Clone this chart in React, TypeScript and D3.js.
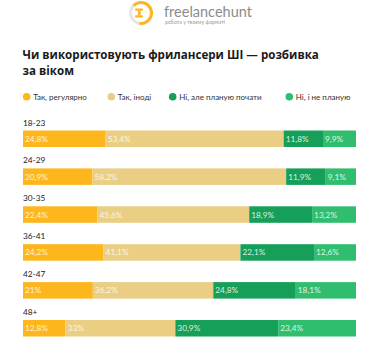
import React from "react";
import * as d3 from "d3";

const categories = ["18-23", "24-29", "30-35", "36-41", "42-47", "48+"];
const seriesNames = ["Так, регулярно", "Так, іноді", "Ні, але планую почати", "Ні, і не планую"];
const regular = [24.8, 20.9, 22.4, 24.2, 21, 12.8];
const sometimes = [53.4, 58.2, 45.6, 41.1, 36.2, 33];
const planning = [11.8, 11.9, 18.9, 22.1, 24.8, 30.9];
const notPlanning = [9.9, 9.1, 13.2, 12.6, 18.1, 23.4];
const colors = ["#FDB71D", "#E9CE84", "#159F59", "#30BE6E"];

const W = 382;
const H = 341;
const fmt = (v: number) => String(v).replace(".", ",") + "%";

export default function App() {
  const keys = ["a", "b", "c", "d"];
  const rows = categories.map((c, i) => ({
    cat: c,
    a: regular[i],
    b: sometimes[i],
    c: planning[i],
    d: notPlanning[i],
  }));
  const stack = d3.stack<any>().keys(keys).offset(d3.stackOffsetExpand);
  const stacked = stack(rows);
  const x = d3.scaleLinear().domain([0, 1]).range([23, 356]);
  const y = d3.scaleBand().domain(categories).range([119.5, 119.5 + 6 * 37.9]).paddingInner(0).paddingOuter(0);
  const barH = 16.5;
  const barOffset = 11;
  const legendX = [26.7, 111.3, 172.7, 289.3];
  const font = "Lato, 'Noto Sans', sans-serif";

  return (
    <svg
      width={W}
      height={H}
      style={{ position: "absolute", left: 0, top: 0, display: "block", background: "#fff" }}
    >
      {/* logo */}
      <g transform="translate(141,13)">
        <circle r={10.5} fill="none" stroke="#e6e6e6" strokeWidth={3} />
        <path
          d={d3.arc()({ innerRadius: 9, outerRadius: 12, startAngle: -Math.PI * 1.05, endAngle: Math.PI * 0.25 }) || ""}
          transform="scale(-1,1)"
          fill="#FDB71D"
        />
        <rect x={-6} y={-4.5} width={8} height={2.2} rx={1} fill="#FDB71D" />
        <rect x={-6} y={2.3} width={8} height={2.2} rx={1} fill="#FDB71D" />
        <rect x={-3} y={-2.5} width={2.6} height={5} fill="#FDB71D" />
      </g>
      <text x={164} y={16.5} fontFamily={font} fontSize={14.5} fill="#8c8c8c">
        freelancehunt
      </text>
      <text x={165} y={24} fontFamily={font} fontSize={5.2} fill="#9a9a9a">
        робота у твоєму форматі
      </text>

      {/* title */}
      <text x={22.5} y={58.5} fontFamily="'Open Sans', sans-serif" fontWeight={700} fontSize={11.6} fill="#1a1a1a">
        Чи використовують фрилансери ШІ — розбивка
      </text>
      <text x={22.5} y={74.5} fontFamily="'Open Sans', sans-serif" fontWeight={700} fontSize={11.6} fill="#1a1a1a">
        за віком
      </text>

      {/* legend */}
      {seriesNames.map((s, i) => (
        <g key={s}>
          <circle cx={legendX[i]} cy={96.8} r={3.8} fill={colors[i]} />
          <text x={legendX[i] + 6.5} y={99.7} fontFamily={font} fontSize={8} fill="#333">
            {s}
          </text>
        </g>
      ))}

      {/* rows */}
      {categories.map((c) => (
        <text key={c} x={23} y={(y(c) || 0) + 6} fontFamily={font} fontSize={8.3} fill="#222">
          {c}
        </text>
      ))}
      {stacked.map((series, si) => (
        <g key={si}>
          {series.map((d, i) => {
            const cat = categories[i];
            const top = (y(cat) || 0) + barOffset;
            const x0 = x(d[0]);
            const x1 = x(d[1]);
            const val = (rows[i] as any)[keys[si]];
            return (
              <g key={cat}>
                <rect x={x0} y={top} width={x1 - x0} height={barH} fill={colors[si]} />
                <text x={x0 + 2} y={top + barH / 2 + 3} fontFamily={font} fontSize={8.3} fill="#fff" fillOpacity={0.85}>
                  {fmt(val)}
                </text>
              </g>
            );
          })}
        </g>
      ))}
    </svg>
  );
}
